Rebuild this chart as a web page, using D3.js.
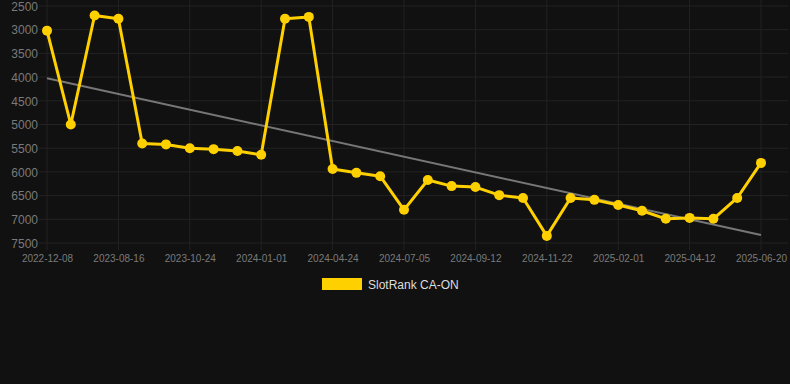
<!DOCTYPE html>
<meta charset="utf-8">
<style>
    body { margin: 0; background: #111111; }
    svg { display: block; }
    .tick text { font: 11px "Liberation Sans", Arial, sans-serif; fill: #7a7a7a; }
    .legend-label { font: 12px "Liberation Sans", Arial, sans-serif; fill: #dddddd; }
</style>
<svg width="790" height="384"></svg>
<script src="https://d3js.org/d3.v7.min.js"></script>
<script>

    // one value per point, rank (lower is better, axis reversed)
    var rankValues = [3020, 5000, 2700, 2770, 5400, 5420, 5500, 5520, 5560, 5640,
                      2770, 2730, 5940, 6020, 6090, 6800, 6170, 6300, 6320, 6490,
                      6550, 7350, 6550, 6590, 6700, 6820, 6990, 6970, 6990, 6550, 5810];
    // every third point carries a date label
    var tickLabels = ["2022-12-08", "2023-08-16", "2023-10-24", "2024-01-01", "2024-04-24",
                      "2024-07-05", "2024-09-12", "2024-11-22", "2025-02-01", "2025-04-12", "2025-06-20"];
    var yTicks = [2500, 3000, 3500, 4000, 4500, 5000, 5500, 6000, 6500, 7000, 7500];
    var seriesName = "SlotRank CA-ON";

    var svg = d3.select("svg"),
        gold = "#ffd000";

    var x = d3.scalePoint()
        .domain(d3.range(rankValues.length))
        .range([47, 761]);

    var y = d3.scaleLinear()
        .domain([2500, 7500])
        .range([6, 243]);

    // horizontal grid
    svg.append("g")
        .selectAll("line")
        .data(yTicks)
        .enter().append("line")
        .attr("x1", 39).attr("x2", 788)
        .attr("y1", function(d) { return y(d); })
        .attr("y2", function(d) { return y(d); })
        .attr("stroke", "#232323");

    // vertical grid on labelled points
    var labelIdx = tickLabels.map(function(d, i) { return i * 3; });
    svg.append("g")
        .selectAll("line")
        .data(labelIdx)
        .enter().append("line")
        .attr("x1", function(d) { return x(d); })
        .attr("x2", function(d) { return x(d); })
        .attr("y1", 0).attr("y2", 250)
        .attr("stroke", "#232323");

    var yAxis = svg.append("g")
        .attr("transform", "translate(38,0)")
        .call(d3.axisLeft(y).tickValues(yTicks).tickFormat(d3.format("d")).tickSize(0).tickPadding(0));
    yAxis.select(".domain").remove();
    yAxis.selectAll("text").style("font-size", "12px").attr("dy", "0.35em");

    var xAxis = svg.append("g")
        .attr("transform", "translate(0,243)")
        .call(d3.axisBottom(x)
            .tickValues(labelIdx)
            .tickFormat(function(d) { return tickLabels[d / 3]; })
            .tickSize(0).tickPadding(12));
    xAxis.select(".domain").remove();
    xAxis.selectAll("text").style("font-size", "10px");

    // least squares trend
    var n = rankValues.length,
        mx = d3.mean(d3.range(n)),
        my = d3.mean(rankValues),
        slope = d3.sum(rankValues, function(v, i) { return (i - mx) * (v - my); }) /
                d3.sum(d3.range(n), function(i) { return (i - mx) * (i - mx); }),
        icpt = my - slope * mx;

    svg.append("line")
        .attr("x1", x(0)).attr("y1", y(icpt))
        .attr("x2", x(n - 1)).attr("y2", y(icpt + slope * (n - 1)))
        .attr("stroke", "#777777")
        .attr("stroke-width", 2);

    var line = d3.line()
        .x(function(d, i) { return x(i); })
        .y(function(d) { return y(d); });

    svg.append("path")
        .datum(rankValues)
        .attr("d", line)
        .attr("fill", "none")
        .attr("stroke", gold)
        .attr("stroke-width", 3)
        .attr("stroke-linejoin", "round");

    svg.append("g")
        .selectAll("circle")
        .data(rankValues)
        .enter().append("circle")
        .attr("cx", function(d, i) { return x(i); })
        .attr("cy", function(d) { return y(d); })
        .attr("r", 5)
        .attr("fill", gold);

    // legend
    var legend = svg.append("g");
    legend.append("rect")
        .attr("x", 322).attr("y", 278)
        .attr("width", 40).attr("height", 12)
        .attr("fill", gold);
    legend.append("text")
        .attr("class", "legend-label")
        .attr("x", 368).attr("y", 289)
        .text(seriesName);

</script>
